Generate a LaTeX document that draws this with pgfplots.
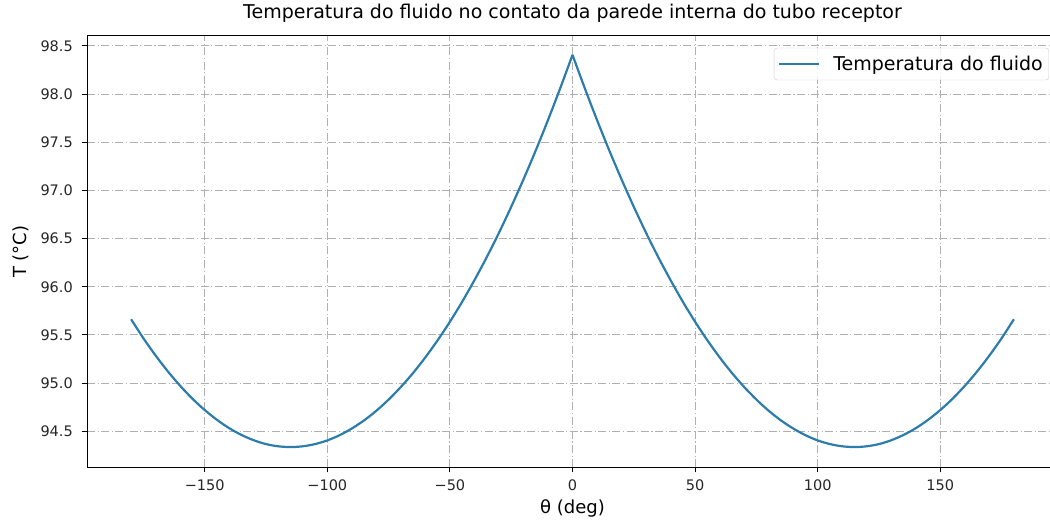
\documentclass[border=0pt]{standalone}
\usepackage{fontspec}
\setmainfont{DejaVu Sans}
\usepackage{pgfplots}
\pgfplotsset{compat=1.18}
\usepackage{pgfplotstable}

\definecolor{linecol}{RGB}{44,124,172}
\definecolor{gridcol}{RGB}{176,176,176}

% Fluid temperature at the inner wall of the receiver tube, versus angle
% (two halves, so that the peak at 0 deg keeps its sharp point)
\pgfplotstableread{
theta T
-180 95.662
-175 95.465
-170 95.285
-165 95.120
-160 94.971
-155 94.837
-150 94.720
-145 94.618
-140 94.531
-135 94.461
-130 94.406
-125 94.366
-120 94.343
-115 94.335
-110 94.343
-105 94.366
-100 94.404
-95 94.458
-90 94.528
-85 94.612
-80 94.712
-75 94.828
-70 94.959
-65 95.105
-60 95.267
-55 95.444
-50 95.636
-45 95.844
-40 96.068
-35 96.306
-30 96.560
-25 96.830
-20 97.115
-15 97.415
-10 97.731
-5 98.062
0 98.408
}\fluidoneg

\pgfplotstableread{
theta T
0 98.408
5 98.062
10 97.731
15 97.415
20 97.115
25 96.830
30 96.560
35 96.306
40 96.068
45 95.844
50 95.636
55 95.444
60 95.267
65 95.105
70 94.959
75 94.828
80 94.712
85 94.612
90 94.528
95 94.458
100 94.404
105 94.366
110 94.343
115 94.335
120 94.343
125 94.366
130 94.406
135 94.461
140 94.531
145 94.618
150 94.720
155 94.837
160 94.971
165 95.120
170 95.285
175 95.465
180 95.662
}\fluidopos

\begin{document}
\begin{tikzpicture}[x=1bp,y=1bp]
\useasboundingbox (0,0) rectangle (1050,522);
\clip (0,0) rectangle (1050,522);
\begin{axis}[
  at={(87bp,54.7bp)}, anchor=south west,
  scale only axis, width=971bp, height=431.3bp,
  xmin=-198, xmax=198, ymin=94.125, ymax=98.604,
  xtick={-150,-100,-50,0,50,100,150},
  xticklabels={−150,−100,−50,0,50,100,150},
  ytick={94.5,95,95.5,96,96.5,97,97.5,98,98.5},
  yticklabels={94.5,95.0,95.5,96.0,96.5,97.0,97.5,98.0,98.5},
  xtick pos=bottom, ytick pos=left,
  tick align=outside, major tick length=5bp,
  tick style={black, line width=1bp},
  axis line style={black, line width=1bp},
  ticklabel style={font=\fontsize{14.5bp}{17bp}\selectfont, text=black!85},
  yticklabel style={inner sep=0pt, anchor=east, xshift=-9bp},
  xticklabel style={inner sep=0pt, anchor=north, yshift=-7bp},
  grid=major,
  major grid style={gridcol, line width=1bp, dash pattern=on 8bp off 2.5bp on 1.2bp off 2.5bp},
  title={Temperatura do fluido no contato da parede interna do tubo receptor},
  title style={at={(axis description cs:0.5,1.0278)}, anchor=base, inner sep=0pt,
    font=\fontsize{19bp}{22bp}\selectfont},
  xlabel={θ (deg)},
  xlabel style={at={(axis description cs:0.5,-0.106)}, anchor=base, inner sep=0pt,
    font=\fontsize{18bp}{21bp}\selectfont},
  ylabel={T (°C)},
  ylabel style={at={(axis description cs:-0.0618,0.5)}, anchor=base, rotate=0, inner sep=0pt,
    font=\fontsize{18bp}{21bp}\selectfont},
  legend style={at={(axis description cs:0.9907,0.9725)}, anchor=north east,
    draw=black!20, rounded corners=3bp, fill=white, fill opacity=0.8, text opacity=1,
    inner xsep=4bp, inner ysep=6bp,
    font=\fontsize{19bp}{22bp}\selectfont,
    /tikz/every odd column/.append style={column sep=11bp}},
  legend image code/.code={\draw[#1] (0bp,0bp) -- (40bp,0bp);},
  legend cell align=left,
]
\addplot[linecol, line width=2.2bp, smooth, tension=0.5] table[x=theta,y=T]{\fluidoneg};
\addlegendentry{Temperatura do fluido}
\addplot[linecol, line width=2.2bp, smooth, tension=0.5, forget plot] table[x=theta,y=T]{\fluidopos};
\end{axis}
\end{tikzpicture}
\end{document}
